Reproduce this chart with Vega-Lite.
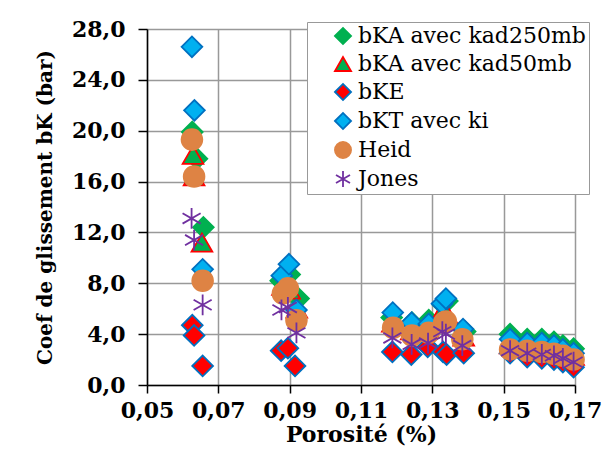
{
  "$schema": "https://vega.github.io/schema/vega-lite/v6.json",
  "width": 428,
  "height": 356,
  "autosize": {"type": "none"},
  "padding": {"left": 147, "top": 29, "right": 28, "bottom": 74},
  "background": "white",
  "config": {
    "view": {"stroke": null},
    "font": "DejaVu Serif",
    "axis": {"labelFont": "DejaVu Serif", "titleFont": "DejaVu Serif"},
    "legend": {"labelFont": "DejaVu Serif", "titleFont": "DejaVu Serif"}
  },
  "data": {
    "values": [
      {"s": "bKA avec kad250mb", "x": 0.0627, "y": 19.9},
      {"s": "bKA avec kad250mb", "x": 0.0640, "y": 17.8},
      {"s": "bKA avec kad250mb", "x": 0.0658, "y": 12.4},
      {"s": "bKA avec kad250mb", "x": 0.0875, "y": 8.2},
      {"s": "bKA avec kad250mb", "x": 0.0900, "y": 8.7},
      {"s": "bKA avec kad250mb", "x": 0.0925, "y": 6.8},
      {"s": "bKA avec kad250mb", "x": 0.1186, "y": 5.3},
      {"s": "bKA avec kad250mb", "x": 0.1243, "y": 4.9},
      {"s": "bKA avec kad250mb", "x": 0.1290, "y": 5.1},
      {"s": "bKA avec kad250mb", "x": 0.1330, "y": 6.3},
      {"s": "bKA avec kad250mb", "x": 0.1342, "y": 6.6},
      {"s": "bKA avec kad250mb", "x": 0.1392, "y": 4.2},
      {"s": "bKA avec kad250mb", "x": 0.1518, "y": 4.0},
      {"s": "bKA avec kad250mb", "x": 0.1566, "y": 3.6},
      {"s": "bKA avec kad250mb", "x": 0.1607, "y": 3.6},
      {"s": "bKA avec kad250mb", "x": 0.1641, "y": 3.4},
      {"s": "bKA avec kad250mb", "x": 0.1666, "y": 3.1},
      {"s": "bKA avec kad250mb", "x": 0.1696, "y": 2.85},

      {"s": "bKA avec kad50mb", "x": 0.0629, "y": 18.1},
      {"s": "bKA avec kad50mb", "x": 0.0632, "y": 16.4},
      {"s": "bKA avec kad50mb", "x": 0.0654, "y": 11.2},
      {"s": "bKA avec kad50mb", "x": 0.0880, "y": 7.8},
      {"s": "bKA avec kad50mb", "x": 0.0900, "y": 7.5},
      {"s": "bKA avec kad50mb", "x": 0.0920, "y": 6.0},
      {"s": "bKA avec kad50mb", "x": 0.1188, "y": 4.9},
      {"s": "bKA avec kad50mb", "x": 0.1241, "y": 4.3},
      {"s": "bKA avec kad50mb", "x": 0.1288, "y": 4.4},
      {"s": "bKA avec kad50mb", "x": 0.1328, "y": 5.8},
      {"s": "bKA avec kad50mb", "x": 0.1340, "y": 5.6},
      {"s": "bKA avec kad50mb", "x": 0.1388, "y": 3.8},
      {"s": "bKA avec kad50mb", "x": 0.1518, "y": 3.2},
      {"s": "bKA avec kad50mb", "x": 0.1566, "y": 2.9},
      {"s": "bKA avec kad50mb", "x": 0.1607, "y": 2.9},
      {"s": "bKA avec kad50mb", "x": 0.1641, "y": 2.8},
      {"s": "bKA avec kad50mb", "x": 0.1666, "y": 2.6},
      {"s": "bKA avec kad50mb", "x": 0.1696, "y": 2.3},

      {"s": "bKE", "x": 0.0627, "y": 4.7},
      {"s": "bKE", "x": 0.0632, "y": 3.9},
      {"s": "bKE", "x": 0.0656, "y": 1.5},
      {"s": "bKE", "x": 0.0876, "y": 2.7},
      {"s": "bKE", "x": 0.0895, "y": 2.9},
      {"s": "bKE", "x": 0.0915, "y": 1.5},
      {"s": "bKE", "x": 0.1188, "y": 2.6},
      {"s": "bKE", "x": 0.1241, "y": 2.4},
      {"s": "bKE", "x": 0.1287, "y": 3.0},
      {"s": "bKE", "x": 0.1330, "y": 2.6},
      {"s": "bKE", "x": 0.1340, "y": 2.4},
      {"s": "bKE", "x": 0.1388, "y": 2.5},
      {"s": "bKE", "x": 0.1518, "y": 2.5},
      {"s": "bKE", "x": 0.1566, "y": 2.2},
      {"s": "bKE", "x": 0.1607, "y": 2.1},
      {"s": "bKE", "x": 0.1641, "y": 2.0},
      {"s": "bKE", "x": 0.1666, "y": 1.8},
      {"s": "bKE", "x": 0.1696, "y": 1.4},

      {"s": "bKT avec ki", "x": 0.0626, "y": 26.6},
      {"s": "bKT avec ki", "x": 0.0633, "y": 21.6},
      {"s": "bKT avec ki", "x": 0.0656, "y": 9.1},
      {"s": "bKT avec ki", "x": 0.0878, "y": 8.6},
      {"s": "bKT avec ki", "x": 0.0898, "y": 9.5},
      {"s": "bKT avec ki", "x": 0.0919, "y": 5.9},
      {"s": "bKT avec ki", "x": 0.1189, "y": 5.7},
      {"s": "bKT avec ki", "x": 0.1242, "y": 4.9},
      {"s": "bKT avec ki", "x": 0.1290, "y": 4.8},
      {"s": "bKT avec ki", "x": 0.1327, "y": 6.4},
      {"s": "bKT avec ki", "x": 0.1338, "y": 6.8},
      {"s": "bKT avec ki", "x": 0.1386, "y": 4.4},
      {"s": "bKT avec ki", "x": 0.1518, "y": 3.6},
      {"s": "bKT avec ki", "x": 0.1566, "y": 3.3},
      {"s": "bKT avec ki", "x": 0.1607, "y": 3.3},
      {"s": "bKT avec ki", "x": 0.1641, "y": 3.1},
      {"s": "bKT avec ki", "x": 0.1666, "y": 2.8},
      {"s": "bKT avec ki", "x": 0.1696, "y": 2.5},

      {"s": "Heid", "x": 0.0626, "y": 19.3},
      {"s": "Heid", "x": 0.0632, "y": 16.4},
      {"s": "Heid", "x": 0.0656, "y": 8.2},
      {"s": "Heid", "x": 0.0881, "y": 7.2},
      {"s": "Heid", "x": 0.0895, "y": 7.6},
      {"s": "Heid", "x": 0.0919, "y": 5.1},
      {"s": "Heid", "x": 0.1190, "y": 4.5},
      {"s": "Heid", "x": 0.1243, "y": 3.9},
      {"s": "Heid", "x": 0.1290, "y": 4.1},
      {"s": "Heid", "x": 0.1333, "y": 4.9},
      {"s": "Heid", "x": 0.1338, "y": 5.0},
      {"s": "Heid", "x": 0.1384, "y": 3.6},
      {"s": "Heid", "x": 0.1518, "y": 2.8},
      {"s": "Heid", "x": 0.1566, "y": 2.7},
      {"s": "Heid", "x": 0.1607, "y": 2.6},
      {"s": "Heid", "x": 0.1641, "y": 2.45},
      {"s": "Heid", "x": 0.1666, "y": 2.3},
      {"s": "Heid", "x": 0.1696, "y": 2.0},

      {"s": "Jones", "x": 0.0625, "y": 13.1},
      {"s": "Jones", "x": 0.0632, "y": 11.4},
      {"s": "Jones", "x": 0.0656, "y": 6.3},
      {"s": "Jones", "x": 0.0877, "y": 5.9},
      {"s": "Jones", "x": 0.0895, "y": 6.1},
      {"s": "Jones", "x": 0.0919, "y": 4.1},
      {"s": "Jones", "x": 0.1188, "y": 3.7},
      {"s": "Jones", "x": 0.1242, "y": 3.2},
      {"s": "Jones", "x": 0.1288, "y": 3.3},
      {"s": "Jones", "x": 0.1328, "y": 4.2},
      {"s": "Jones", "x": 0.1338, "y": 4.0},
      {"s": "Jones", "x": 0.1384, "y": 3.1},
      {"s": "Jones", "x": 0.1518, "y": 2.7},
      {"s": "Jones", "x": 0.1566, "y": 2.5},
      {"s": "Jones", "x": 0.1607, "y": 2.4},
      {"s": "Jones", "x": 0.1641, "y": 2.3},
      {"s": "Jones", "x": 0.1666, "y": 2.1},
      {"s": "Jones", "x": 0.1696, "y": 1.8}
    ]
  },
  "mark": {"type": "point", "filled": true, "opacity": 1, "strokeWidth": 1.8, "size": 430},
  "encoding": {
    "x": {
      "field": "x", "type": "quantitative",
      "scale": {"domain": [0.05, 0.17], "nice": false, "zero": false},
      "axis": {
        "title": "Porosité (%)",
        "values": [0.05, 0.07, 0.09, 0.11, 0.13, 0.15, 0.17],
        "labelExpr": "replace(format(datum.value, '.2f'), '.', ',')",
        "labelFontSize": 22, "labelFontWeight": "bold", "labelColor": "black",
        "titleFontSize": 22, "titleFontWeight": "bold", "titleColor": "black",
        "labelPadding": 7, "titlePadding": 3,
        "domainColor": "black", "domainWidth": 1.5,
        "tickColor": "black", "tickSize": 8, "tickWidth": 1.5,
        "grid": true, "gridColor": "#999999", "gridWidth": 1.5,
        "labelOverlap": false, "labelFlush": false
      }
    },
    "y": {
      "field": "y", "type": "quantitative",
      "scale": {"domain": [0, 28], "nice": false},
      "axis": {
        "title": "Coef de glissement  bK (bar)",
        "values": [0, 4, 8, 12, 16, 20, 24, 28],
        "labelExpr": "replace(format(datum.value, '.1f'), '.', ',')",
        "labelFontSize": 22, "labelFontWeight": "bold", "labelColor": "black",
        "titleFontSize": 20, "titleFontWeight": "bold", "titleColor": "black",
        "labelPadding": 13, "titlePadding": 16,
        "domainColor": "black", "domainWidth": 1.5,
        "tickColor": "black", "tickSize": 9, "tickWidth": 1.5,
        "grid": true, "gridColor": "#999999", "gridWidth": 1.5,
        "labelOverlap": false
      }
    },
    "shape": {
      "field": "s", "type": "nominal",
      "scale": {
        "domain": ["bKA avec kad250mb", "bKA avec kad50mb", "bKE", "bKT avec ki", "Heid", "Jones"],
        "range": ["diamond", "triangle-up", "diamond", "diamond", "circle", "M0,-1L0,1M-0.87,-0.5L0.87,0.5M-0.87,0.5L0.87,-0.5"]
      },
      "legend": {
        "title": null,
        "orient": "none", "legendX": 160, "legendY": -7,
        "labelFontSize": 22, "labelColor": "black", "labelLimit": 500,
        "symbolSize": 260, "symbolStrokeWidth": 1.8,
        "fillColor": "white", "strokeColor": "#999999", "padding": 3,
        "rowPadding": 5, "symbolOffset": 22, "labelOffset": 4
      }
    },
    "fill": {
      "field": "s", "type": "nominal",
      "scale": {
        "domain": ["bKA avec kad250mb", "bKA avec kad50mb", "bKE", "bKT avec ki", "Heid", "Jones"],
        "range": ["#00B050", "#00B050", "#FF0000", "#00B0F0", "#DE8344", "transparent"]
      },
      "legend": null
    },
    "stroke": {
      "field": "s", "type": "nominal",
      "scale": {
        "domain": ["bKA avec kad250mb", "bKA avec kad50mb", "bKE", "bKT avec ki", "Heid", "Jones"],
        "range": ["#00B050", "#FF0000", "#0070C0", "#0070C0", "#DE8344", "#7030A0"]
      },
      "legend": null
    }
  }
}
